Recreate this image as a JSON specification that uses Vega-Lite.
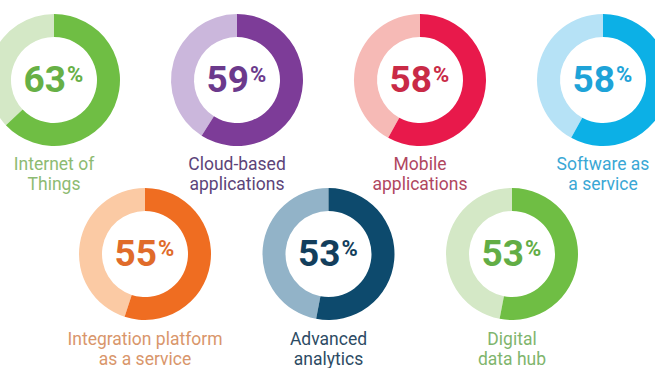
{
  "$schema": "https://vega.github.io/schema/vega-lite/v6.json",
  "padding": 0,
  "background": "white",
  "bounds": "flush",
  "spacing": 0,
  "config": {"view": {"stroke": null}},
  "data": {"values": [
    {"name": "Internet of Things", "label": "Internet of\nThings", "value": 63},
    {"name": "Cloud-based applications", "label": "Cloud-based\napplications", "value": 59},
    {"name": "Mobile applications", "label": "Mobile\napplications", "value": 58},
    {"name": "Software as a service", "label": "Software as\na service", "value": 58},
    {"name": "Integration platform as a service", "label": "Integration platform\nas a service", "value": 55},
    {"name": "Advanced analytics", "label": "Advanced\nanalytics", "value": 53},
    {"name": "Digital data hub", "label": "Digital\ndata hub", "value": 53}
  ]},
  "vconcat": [
    {
      "width": 655, "height": 160,
      "transform": [{"filter": {"field": "name", "oneOf": ["Internet of Things", "Cloud-based applications", "Mobile applications", "Software as a service"]}}],
      "encoding": {"x": {"field": "name", "type": "nominal", "axis": null, "scale": {"type": "point", "padding": 0, "domain": ["Internet of Things", "Cloud-based applications", "Mobile applications", "Software as a service"], "range": [54, 603]}}},
      "layer": [
        {"mark": {"type": "arc", "outerRadius": 66, "innerRadius": 43, "clip": true},
         "encoding": {
           "theta": {"field": "value", "type": "quantitative", "scale": {"domain": [0, 100], "range": [0, 6.2832]}},
           "theta2": {"datum": 100},
           "color": {"field": "name", "type": "nominal", "legend": null, "scale": {"domain": ["Internet of Things", "Cloud-based applications", "Mobile applications", "Software as a service", "Integration platform as a service", "Advanced analytics", "Digital data hub"], "range": ["#d4e8c6", "#cbb7dc", "#f6bab6", "#b6e2f6", "#fbcaa4", "#92b3c8", "#d4e8c6"]}}}},
        {"mark": {"type": "arc", "outerRadius": 66, "innerRadius": 43, "clip": true},
         "encoding": {
           "theta": {"field": "value", "type": "quantitative", "scale": {"domain": [0, 100], "range": [0, 6.2832]}},
           "theta2": {"datum": 0},
           "color": {"field": "name", "type": "nominal", "legend": null, "scale": {"domain": ["Internet of Things", "Cloud-based applications", "Mobile applications", "Software as a service", "Integration platform as a service", "Advanced analytics", "Digital data hub"], "range": ["#6fbe44", "#7d3c98", "#e8194b", "#0cb0e6", "#ef6d21", "#0d4a6d", "#6fbe44"]}}}},
        {"mark": {"type": "text", "font": "Roboto", "fontSize": 37, "fontWeight": "bold", "align": "right", "baseline": "alphabetic", "dx": 12, "dy": 12},
         "encoding": {
           "text": {"field": "value", "type": "quantitative"},
           "color": {"field": "name", "type": "nominal", "legend": null, "scale": {"domain": ["Internet of Things", "Cloud-based applications", "Mobile applications", "Software as a service", "Integration platform as a service", "Advanced analytics", "Digital data hub"], "range": ["#67b046", "#6b3a8c", "#c92a46", "#1ea3d8", "#e06b2a", "#133e5c", "#62ad45"]}}}},
        {"mark": {"type": "text", "font": "Roboto", "fontSize": 22, "fontWeight": "bold", "align": "left", "baseline": "alphabetic", "dx": 13, "dy": 2, "text": "%"},
         "encoding": {
           "color": {"field": "name", "type": "nominal", "legend": null, "scale": {"domain": ["Internet of Things", "Cloud-based applications", "Mobile applications", "Software as a service", "Integration platform as a service", "Advanced analytics", "Digital data hub"], "range": ["#67b046", "#6b3a8c", "#c92a46", "#1ea3d8", "#e06b2a", "#133e5c", "#62ad45"]}}}},
        {"mark": {"type": "text", "font": "Roboto", "fontSize": 17.5, "align": "center", "baseline": "alphabetic", "lineBreak": "\n", "lineHeight": 20, "dy": 90},
         "encoding": {
           "text": {"field": "label", "type": "nominal"},
           "color": {"field": "name", "type": "nominal", "legend": null, "scale": {"domain": ["Internet of Things", "Cloud-based applications", "Mobile applications", "Software as a service", "Integration platform as a service", "Advanced analytics", "Digital data hub"], "range": ["#8dbb72", "#5c4479", "#b0475f", "#3aa7d5", "#d9966b", "#2d4b64", "#7fb56d"]}}}}
      ],
      "resolve": {"scale": {"color": "independent"}}
    },
    {
      "width": 655, "height": 188,
      "transform": [{"filter": {"field": "name", "oneOf": ["Integration platform as a service", "Advanced analytics", "Digital data hub"]}}],
      "encoding": {"x": {"field": "name", "type": "nominal", "axis": null, "scale": {"type": "point", "padding": 0, "domain": ["Integration platform as a service", "Advanced analytics", "Digital data hub"], "range": [145, 512]}}},
      "layer": [
        {"mark": {"type": "arc", "outerRadius": 66, "innerRadius": 43, "clip": true},
         "encoding": {
           "theta": {"field": "value", "type": "quantitative", "scale": {"domain": [0, 100], "range": [0, 6.2832]}},
           "theta2": {"datum": 100},
           "color": {"field": "name", "type": "nominal", "legend": null, "scale": {"domain": ["Internet of Things", "Cloud-based applications", "Mobile applications", "Software as a service", "Integration platform as a service", "Advanced analytics", "Digital data hub"], "range": ["#d4e8c6", "#cbb7dc", "#f6bab6", "#b6e2f6", "#fbcaa4", "#92b3c8", "#d4e8c6"]}}}},
        {"mark": {"type": "arc", "outerRadius": 66, "innerRadius": 43, "clip": true},
         "encoding": {
           "theta": {"field": "value", "type": "quantitative", "scale": {"domain": [0, 100], "range": [0, 6.2832]}},
           "theta2": {"datum": 0},
           "color": {"field": "name", "type": "nominal", "legend": null, "scale": {"domain": ["Internet of Things", "Cloud-based applications", "Mobile applications", "Software as a service", "Integration platform as a service", "Advanced analytics", "Digital data hub"], "range": ["#6fbe44", "#7d3c98", "#e8194b", "#0cb0e6", "#ef6d21", "#0d4a6d", "#6fbe44"]}}}},
        {"mark": {"type": "text", "font": "Roboto", "fontSize": 37, "fontWeight": "bold", "align": "right", "baseline": "alphabetic", "dx": 12, "dy": 12},
         "encoding": {
           "text": {"field": "value", "type": "quantitative"},
           "color": {"field": "name", "type": "nominal", "legend": null, "scale": {"domain": ["Internet of Things", "Cloud-based applications", "Mobile applications", "Software as a service", "Integration platform as a service", "Advanced analytics", "Digital data hub"], "range": ["#67b046", "#6b3a8c", "#c92a46", "#1ea3d8", "#e06b2a", "#133e5c", "#62ad45"]}}}},
        {"mark": {"type": "text", "font": "Roboto", "fontSize": 22, "fontWeight": "bold", "align": "left", "baseline": "alphabetic", "dx": 13, "dy": 2, "text": "%"},
         "encoding": {
           "color": {"field": "name", "type": "nominal", "legend": null, "scale": {"domain": ["Internet of Things", "Cloud-based applications", "Mobile applications", "Software as a service", "Integration platform as a service", "Advanced analytics", "Digital data hub"], "range": ["#67b046", "#6b3a8c", "#c92a46", "#1ea3d8", "#e06b2a", "#133e5c", "#62ad45"]}}}},
        {"mark": {"type": "text", "font": "Roboto", "fontSize": 17.5, "align": "center", "baseline": "alphabetic", "lineBreak": "\n", "lineHeight": 20, "dy": 91},
         "encoding": {
           "text": {"field": "label", "type": "nominal"},
           "color": {"field": "name", "type": "nominal", "legend": null, "scale": {"domain": ["Internet of Things", "Cloud-based applications", "Mobile applications", "Software as a service", "Integration platform as a service", "Advanced analytics", "Digital data hub"], "range": ["#8dbb72", "#5c4479", "#b0475f", "#3aa7d5", "#d9966b", "#2d4b64", "#7fb56d"]}}}}
      ],
      "resolve": {"scale": {"color": "independent"}}
    }
  ]
}
